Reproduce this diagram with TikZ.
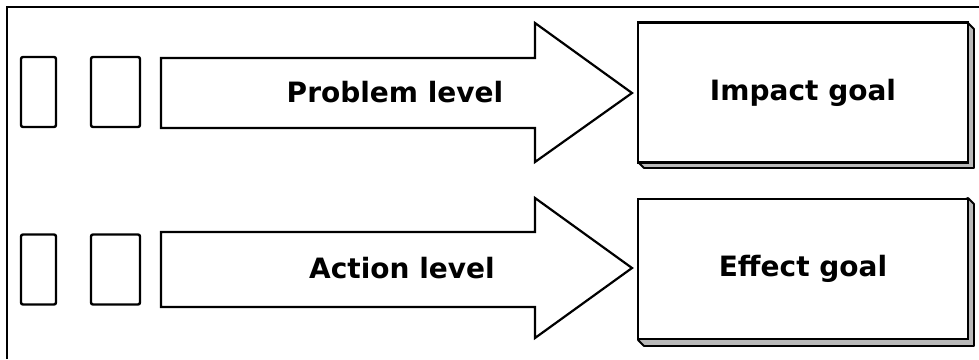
\documentclass[tikz,border=0pt]{standalone}
\usepackage{fontspec}
\setmainfont{DejaVu Sans}
\begin{document}
\begin{tikzpicture}[x=0.5pt,y=-0.5pt,
  slot/.style={draw,line width=1.2pt,rounded corners=1pt,minimum height=35pt,inner sep=0pt},
  goal/.style={draw,fill=white,line width=1.1pt,minimum width=165pt,minimum height=70pt,font=\bfseries\fontsize{14}{17}\selectfont},
  lvl/.style={font=\bfseries\fontsize{14}{17}\selectfont},
  shade/.style={draw,fill=gray!55,line width=0.9pt,line join=round}]
  \useasboundingbox (0,0) rectangle (979,359);
  % frame
  \draw[line width=1.2pt] (7,359) -- (7,7) -- (979,7);
  % problem row
  \node[slot,minimum width=17.5pt] (p1) at (38.5,92) {};
  \node[slot,minimum width=24.5pt] (p2) at (115.5,92) {};
  \draw[line width=1.1pt,line join=miter]
    (161,58) -- (535,58) -- (535,23) -- (632,93) -- (535,162) -- (535,128) -- (161,128) -- cycle;
  \node[lvl] (prob) at (395,92) {Problem level};
  \draw[shade] (968,23) -- (974,29) -- (974,168) -- (644,168) -- (638,162) -- cycle;
  \node[goal] (impact) at (803,92.5) {Impact goal};
  % action row
  \node[slot,minimum width=17.5pt] (a1) at (38.5,269.5) {};
  \node[slot,minimum width=24.5pt] (a2) at (115.5,269.5) {};
  \draw[line width=1.1pt,line join=miter]
    (161,232) -- (535,232) -- (535,198) -- (632,268) -- (535,338) -- (535,307) -- (161,307) -- cycle;
  \node[lvl] (act) at (402,268) {Action level};
  \draw[shade] (968,198) -- (974,204) -- (974,346) -- (644,346) -- (638,340) -- cycle;
  \node[goal] (effect) at (803,269) {Effect goal};
\end{tikzpicture}
\end{document}
